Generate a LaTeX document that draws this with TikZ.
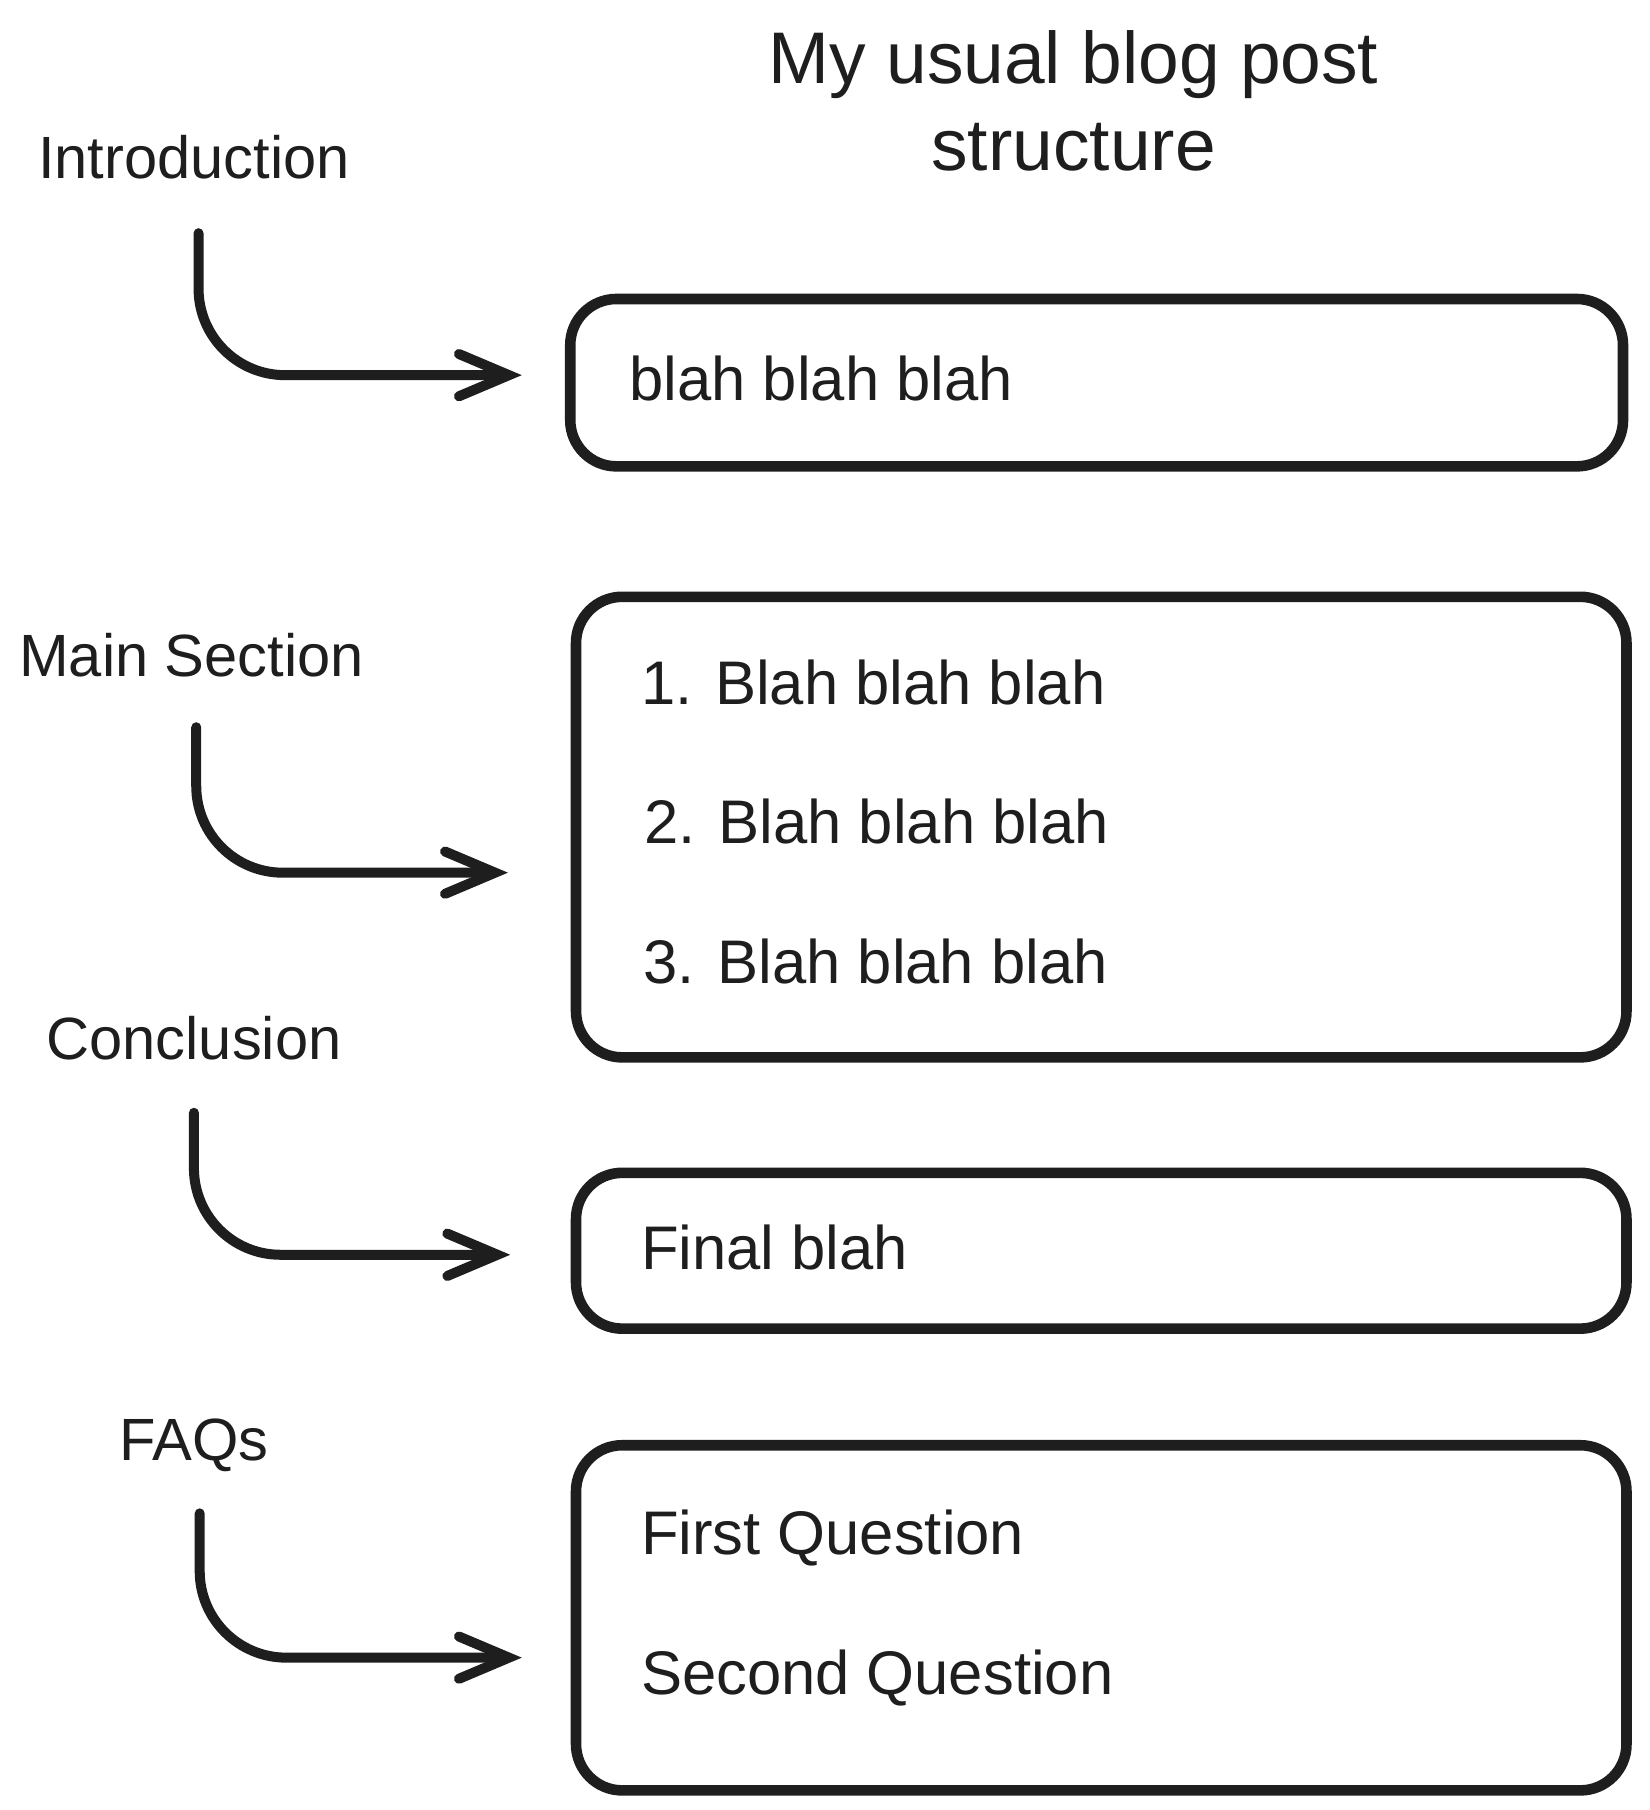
\documentclass[tikz,border=0pt]{standalone}
\usepackage{fontspec}
\setmainfont{Liberation Sans}
\usetikzlibrary{arrows.meta,fit}
\definecolor{ink}{HTML}{1E1E1E}
\tikzset{
  x=0.6pt, y=-0.6pt,
  every node/.style={text=ink, inner sep=0pt},
  label/.style={anchor=base, font=\fontsize{31}{38}\selectfont},
  title/.style={anchor=base, font=\fontsize{38}{45}\selectfont},
  boxtext/.style={anchor=base west, font=\fontsize{32}{38}\selectfont},
  box/.style={draw=ink, line width=5.5pt, rounded corners=24pt, inner sep=0pt},
  arrow/.style={draw=ink, line width=5.2pt, line cap=round, line join=round, rounded corners=45pt,
    -{Straight Barb[length=26pt, width=22pt, line cap=round]}},
}
\begin{document}
\begin{tikzpicture}
\path[use as bounding box, fill=white] (0,0) rectangle (1429,1568);

% title
\node[title] (t1) at (930,72) {My usual blog post};
\node[title] (t2) at (930,148) {structure};

% side labels
\node[label] (intro) at (168,155) {Introduction};
\node[label] (main) at (166,586) {Main Section};
\node[label] (concl) at (168,918) {Conclusion};
\node[label] (faq) at (168,1265) {FAQs};

% boxes
\node[box, fit={(494,259) (1406,404)}] (b1) {};
\node[box, fit={(499,517) (1409,916)}] (b2) {};
\node[box, fit={(499,1016) (1409,1151)}] (b3) {};
\node[box, fit={(499,1252) (1409,1551)}] (b4) {};

% box texts
\node[boxtext] (b1t) at (545,347) {blah blah blah};
\node[boxtext] (b2a) at (555,610) {1. Blah blah blah};
\node[boxtext] (b2b) at (558,731) {2. Blah blah blah};
\node[boxtext] (b2c) at (557,852) {3. Blah blah blah};
\node[boxtext] (b3t) at (555,1100) {Final blah};
\node[boxtext] (b4a) at (555,1347) {First Question};
\node[boxtext] (b4b) at (555,1468) {Second Question};

% arrows
\coordinate (a1s) at (172,202);
\coordinate (a1e) at (452,325);
\coordinate (a2s) at (170,630);
\coordinate (a2e) at (440,756);
\coordinate (a3s) at (168,964);
\coordinate (a3e) at (442,1087);
\coordinate (a4s) at (173,1311);
\coordinate (a4e) at (452,1436);
\draw[arrow] (a1s) |- (a1e);
\draw[arrow] (a2s) |- (a2e);
\draw[arrow] (a3s) |- (a3e);
\draw[arrow] (a4s) |- (a4e);
\end{tikzpicture}
\end{document}
